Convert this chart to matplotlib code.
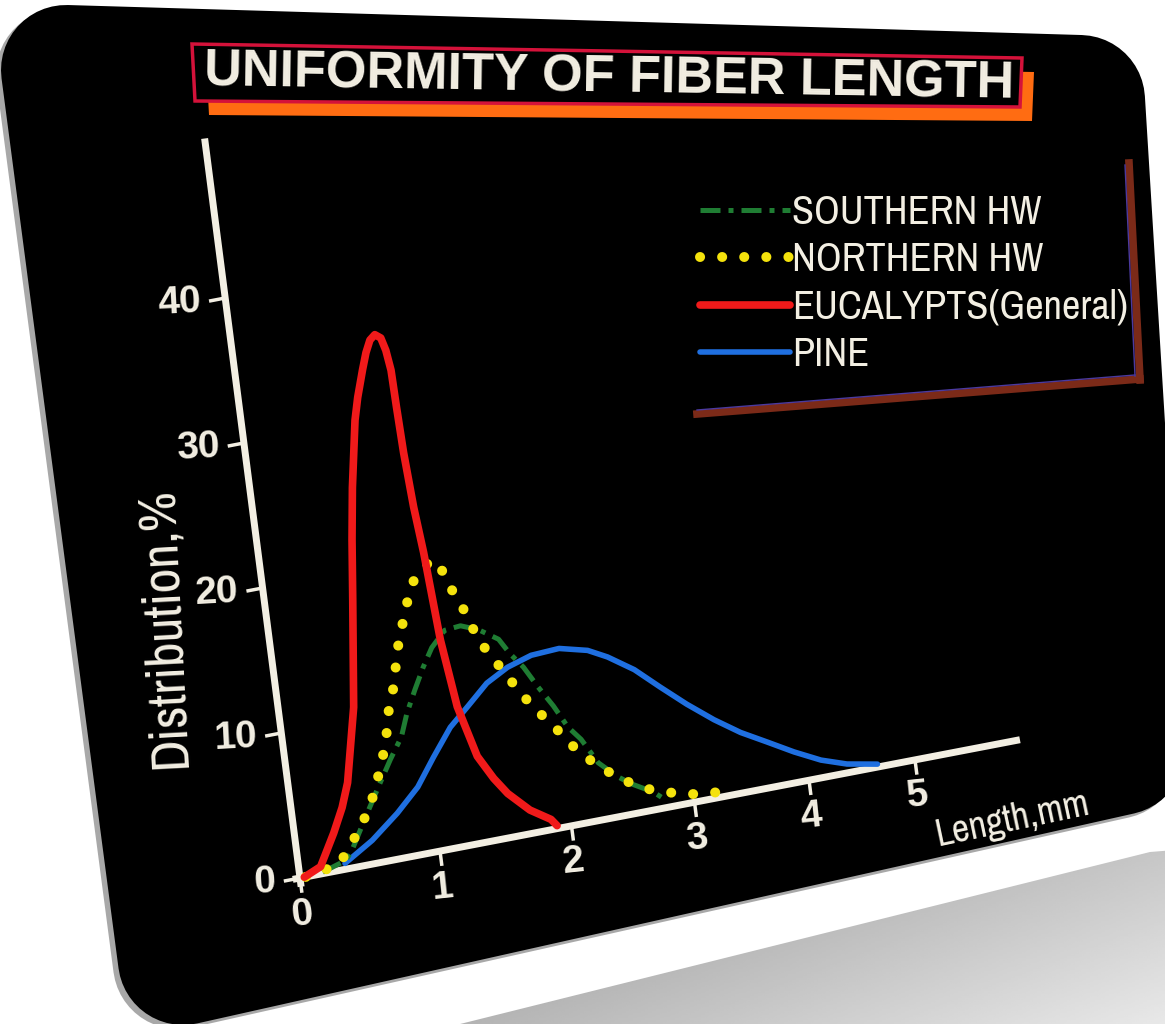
import numpy as np
import matplotlib.pyplot as plt
from matplotlib import font_manager
from matplotlib.patches import Polygon
from matplotlib.transforms import Affine2D, Transform

# fiber length distributions (length in mm, share in %)
euc_len = [0.03, 0.15, 0.27, 0.35, 0.41, 0.52, 0.61, 0.66, 0.71, 0.79, 0.83, 0.89, 0.93, 0.97,
           1.01, 1.05, 1.075, 1.094, 1.099, 1.108, 1.13, 1.16, 1.20, 1.26, 1.36, 1.46, 1.55, 1.70,
           1.85, 1.89]
euc_pct = [0.0, 0.5, 2.6, 4.2, 5.8, 10.8, 18.0, 22.1, 25.6, 30.1, 31.6, 33.4, 34.5, 35.3,
           35.6, 35.3, 34.4, 33.0, 30.5, 27.3, 23.5, 20.3, 14.2, 9.5, 5.9, 4.2, 3.0, 1.6,
           0.7, 0.2]

shw_len = [0.16, 0.33, 0.38, 0.52, 0.62, 0.73, 0.83, 0.89, 0.97, 1.05, 1.13, 1.24, 1.36, 1.49,
           1.63, 1.70, 1.79, 1.88, 1.98, 2.07, 2.16, 2.27, 2.41, 2.52, 2.68, 2.77]
shw_pct = [0.1, 0.6, 1.2, 3.5, 5.1, 6.8, 8.2, 9.7, 11.2, 12.6, 13.8, 14.8, 14.9, 14.4,
           13.5, 12.4, 11.3, 9.8, 8.3, 6.7, 5.7, 3.9, 2.7, 2.0, 1.2, 0.5]

nhw_len = [0.04, 0.28, 0.45, 0.55, 0.62, 0.68, 0.73, 0.77, 0.83, 0.86, 0.90, 0.95, 1.00, 1.07,
           1.19, 1.26, 1.30, 1.37, 1.42, 1.48, 1.57, 1.66, 1.75, 1.85, 1.96, 2.05, 2.15, 2.29,
           2.47, 2.66, 2.80, 2.95, 3.10, 3.25]
nhw_pct = [0.0, 0.4, 2.5, 4.0, 5.6, 7.1, 8.7, 10.4, 11.9, 13.3, 14.7, 16.0, 17.3, 18.7,
           19.6, 19.5, 18.0, 16.7, 15.4, 13.7, 12.3, 10.9, 9.5, 8.2, 7.0, 5.8, 4.7, 3.5,
           2.3, 1.4, 1.0, 0.6, 0.5, 0.3]

pine_len = [0.32, 0.53, 0.73, 0.90, 1.04, 1.19, 1.34, 1.50, 1.67, 1.86, 2.08, 2.30, 2.45, 2.65,
            2.84, 3.04, 3.25, 3.46, 3.68, 3.90, 4.13, 4.36, 4.64]
pine_pct = [0.4, 1.6, 3.1, 4.6, 6.4, 8.2, 9.4, 10.7, 11.5, 12.0, 12.1, 11.6, 10.9, 9.7,
            8.2, 6.7, 5.3, 4.1, 3.1, 2.1, 1.2, 0.6, 0.2]

x_ticks = [0, 1, 2, 3, 4, 5]
y_ticks = [0, 10, 20, 30, 40]
series_names = ['SOUTHERN HW', 'NORTHERN HW', 'EUCALYPTS(General)', 'PINE']

CREAM = '#f3efe3'


def pick_narrow():
    """Find a condensed sans face; fall back to DejaVu Sans."""
    fonts = font_manager.fontManager.ttflist
    names = {f.name for f in fonts}
    if 'Liberation Sans Narrow' in names:
        return 'Liberation Sans Narrow', 'normal', 1.0
    for f in fonts:
        if ('Condensed' in f.name or 'Narrow' in f.name) and f.style == 'normal':
            return f.name, 'normal', 0.95
    for f in fonts:
        st = f.stretch
        cond = st in ('condensed', 'semi-condensed', 'extra-condensed') or \
            (isinstance(st, int) and st < 500)
        if cond and f.style == 'normal' and f.name in ('Roboto', 'Noto Sans', 'Open Sans',
                                                       'DejaVu Sans', 'Inter', 'Lato'):
            return f.name, st, 0.95
    return 'DejaVu Sans', 'normal', 0.78


class LengthWarp(Transform):
    """Foreshortening of the length axis on the photographed slide."""
    input_dims = output_dims = 2

    def transform_non_affine(self, values):
        v = np.array(values, dtype=float)
        v[:, 0] = (144.25 * v[:, 0] - 4.25 * v[:, 0] ** 2) / 126
        return v


NARROW, NSTRETCH, k = pick_narrow()
names = {f.name for f in font_manager.fontManager.ttflist}
PLAIN = 'Liberation Sans' if 'Liberation Sans' in names else 'DejaVu Sans'

fig = plt.figure(figsize=(11.65, 10.24), dpi=100)
fig.patch.set_facecolor('white')
ax = fig.add_axes([0, 0, 1, 1])
ax.axis('off')

# reflection under the card
refl = Polygon([(420, 1034), (1150, 852), (1175, 850), (1175, 1030)], closed=True,
               fc='none', ec='none')
ax.add_patch(refl)
gy, gx = np.mgrid[0:1:100j, 0:1:200j]
grad = 0.56 + 0.22 * gx + 0.14 * gy
img = ax.imshow(grad, cmap='gray', vmin=0, vmax=1, extent=(420, 1175, 1034, 850),
                origin='upper', aspect='auto', zorder=0)
img.set_clip_path(refl)

# the slide card, rounded corners via a thick round-joined outline
card = np.array([(66, 70), (1080, 100), (1120, 750), (183, 960)])
ax.add_patch(Polygon(card + (-5, 4), closed=True, fc='#a8a8a8', ec='#a8a8a8',
                     lw=93.6, joinstyle='round', zorder=1))
ax.add_patch(Polygon(card, closed=True, fc='black', ec='black',
                     lw=93.6, joinstyle='round', zorder=1.5))
ax.set_xlim(0, 1165)
ax.set_ylim(1024, 0)

# title plate
ax.add_patch(Polygon([(206, 58), (1034, 72), (1032, 121), (209, 115)], closed=True,
                     fc='#ff6c12', ec='none', zorder=2))
ax.add_patch(Polygon([(192, 44), (1022, 58), (1020, 107), (195, 101)], closed=True,
                     fc='black', ec='#d4123a', lw=2.5, zorder=2.1))
ax.text(609, 78, 'UNIFORMITY OF FIBER LENGTH', ha='center', va='center', rotation=-0.9,
        fontsize=37.5, fontweight='bold', family=PLAIN, color=CREAM, zorder=3)

# chart plane: length (mm) / distribution (%) mapped onto the tilted slide
chart = LengthWarp() + Affine2D.from_values(126, -24.2, -1.87, -14.5, 300, 878) + ax.transData

ax.plot([-0.05, 6.08], [0, 0], color=CREAM, lw=5, transform=chart, zorder=4,
        solid_capstyle='butt')
ax.plot([0, 0], [-0.6, 51], color=CREAM, lw=5, transform=chart, zorder=4,
        solid_capstyle='butt')
for t in x_ticks:
    ax.plot([t, t], [-0.9, 0], color=CREAM, lw=2.5, transform=chart, zorder=4)
    ax.text(t, -1.2, str(t), transform=chart, ha='center', va='top', rotation=6,
            fontsize=28, fontweight='bold', family=PLAIN, color=CREAM, zorder=4)
for v in y_ticks:
    ax.plot([-0.1, 0], [v, v], color=CREAM, lw=2.5, transform=chart, zorder=4)
    ax.text(-0.16, v, str(v), transform=chart, ha='right', va='center', rotation=3,
            fontsize=28, fontweight='bold', family=PLAIN, color=CREAM, zorder=4)

l_pine, = ax.plot(pine_len, pine_pct, color='#1f6fe0', lw=4, transform=chart, zorder=5,
                  solid_capstyle='round')
l_shw, = ax.plot(shw_len, shw_pct, color='#1f7d33', lw=3.6, transform=chart, zorder=6,
                 linestyle=(0, (4, 1.6, 1, 1.6)))
l_nhw, = ax.plot(nhw_len, nhw_pct, color='#f4e20c', lw=7.2, transform=chart, zorder=7,
                 linestyle=(0, (0.01, 2.2)), dash_capstyle='round')
l_euc, = ax.plot(euc_len, euc_pct, color='#f01a1a', lw=5.5, transform=chart, zorder=8,
                 solid_capstyle='round', solid_joinstyle='round')

ax.text(163, 628, 'Distribution,%', rotation=93, ha='center', va='center',
        fontsize=41 * k, family=NARROW, fontstretch=NSTRETCH, color=CREAM, zorder=4)
ax.text(1012, 820, 'Length,mm', rotation=12, ha='center', va='center',
        fontsize=29 * k, family=NARROW, fontstretch=NSTRETCH, color=CREAM, zorder=4)

fs = 30.5 * k
fs_px = fs * 100 / 72
leg = ax.legend([l_shw, l_nhw, l_euc, l_pine], series_names, loc='upper left',
                bbox_to_anchor=(700 / 1165, 1 - (210 - 0.39 * fs_px) / 1024), frameon=False,
                prop={'family': NARROW, 'size': fs, 'stretch': NSTRETCH}, labelcolor=CREAM,
                handlelength=90 / fs_px, handletextpad=0.05,
                labelspacing=max(0.0, (48 - 0.94 * fs_px) / fs_px),
                borderpad=0, borderaxespad=0)
leg.set_zorder(9)

# legend frame: only right and bottom edges, as on the slide
ax.plot([1129, 1140], [163, 380], color='#7b2a18', lw=5.5, zorder=3)
ax.plot([697, 1140], [414, 379], color='#7b2a18', lw=5.5, zorder=3)
ax.plot([1125, 1135], [165, 376], color='#4b3aa0', lw=1.0, zorder=3)
ax.plot([697, 1135], [410, 375], color='#4b3aa0', lw=1.0, zorder=3)

fig.savefig('out.png', dpi=100, facecolor='white')
